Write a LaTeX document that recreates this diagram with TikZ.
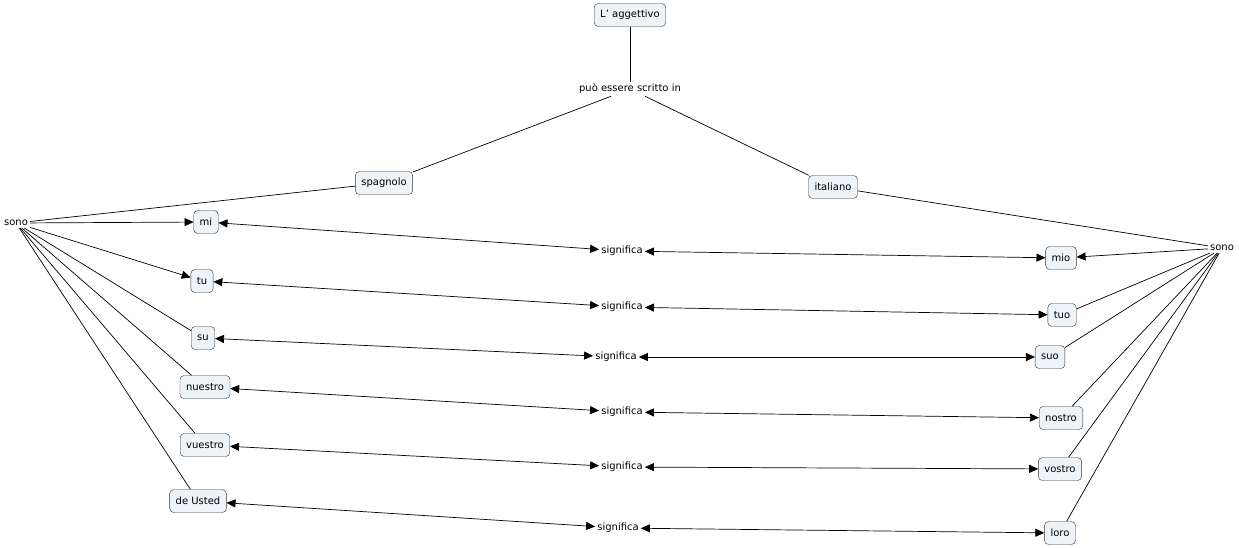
\documentclass[tikz,border=0pt]{standalone}
\usepackage{fontspec}
\setmainfont{DejaVu Sans}
\usetikzlibrary{arrows.meta}
\definecolor{boxfill}{HTML}{EEF3F7}
\begin{document}
\begin{tikzpicture}[x=1pt,y=-1pt,
  box/.style={draw=black!80,fill=boxfill,rounded corners=4pt,inner xsep=6pt,inner ysep=4pt,minimum height=23pt,font=\fontsize{10}{11}\selectfont},
  lab/.style={inner sep=2pt,font=\fontsize{10}{11}\selectfont},
  ln/.style={draw,line width=0.7pt},
  ar/.style={ln,-{Triangle[length=9pt,width=8pt]}},
  dar/.style={ln,{Triangle[length=9pt,width=8pt]}-{Triangle[length=9pt,width=8pt]}}]
\useasboundingbox (0,0) rectangle (1239,547);
\node[box] (agg) at (630,15) {L' aggettivo};
\node[lab] (puo) at (630,89) {può essere scritto in};
\node[box] (spa) at (384,183) {spagnolo};
\node[box] (ita) at (833,187) {italiano};
\node[lab] (sl) at (16,223) {sono};
\node[lab] (sr) at (1222,248) {sono};
\foreach \n/\t/\x/\y in {mi/mi/206/222, tu/tu/202/281, su/su/203/338, nue/nuestro/205/387, vue/vuestro/205/445, ust/de Usted/198/501,
  mio/mio/1061/258, tuo/tuo/1062/315, suo/suo/1050/357, nos/nostro/1061/418, vos/vostro/1060/469, lor/loro/1060/533}
  \node[box] (\n) at (\x,\y) {\t};
\foreach \i/\x/\y in {1/622/251, 2/622/307, 3/616/357, 4/622/412, 5/622/467, 6/618/528}
  \node[lab] (s\i) at (\x,\y) {significa};
\draw[ln] (agg) -- (puo);
\draw[ln] (puo) -- (spa);
\draw[ln] (puo) -- (ita);
\draw[ln] (spa) -- (sl);
\draw[ln] (ita) -- (sr);
\draw[ar] (sl) -- (mi);
\draw[ar] (sl) -- (tu);
\foreach \n in {su,nue,vue,ust} \draw[ln] (sl) -- (\n);
\draw[ar] (sr) -- (mio);
\foreach \n in {tuo,suo,nos,vos,lor} \draw[ln] (sr) -- (\n);
\foreach \a/\i/\b in {mi/1/mio, tu/2/tuo, su/3/suo, nue/4/nos, vue/5/vos, ust/6/lor} {
  \draw[dar] (\a) -- (s\i);
  \draw[dar] (s\i) -- (\b);
}
\end{tikzpicture}
\end{document}
